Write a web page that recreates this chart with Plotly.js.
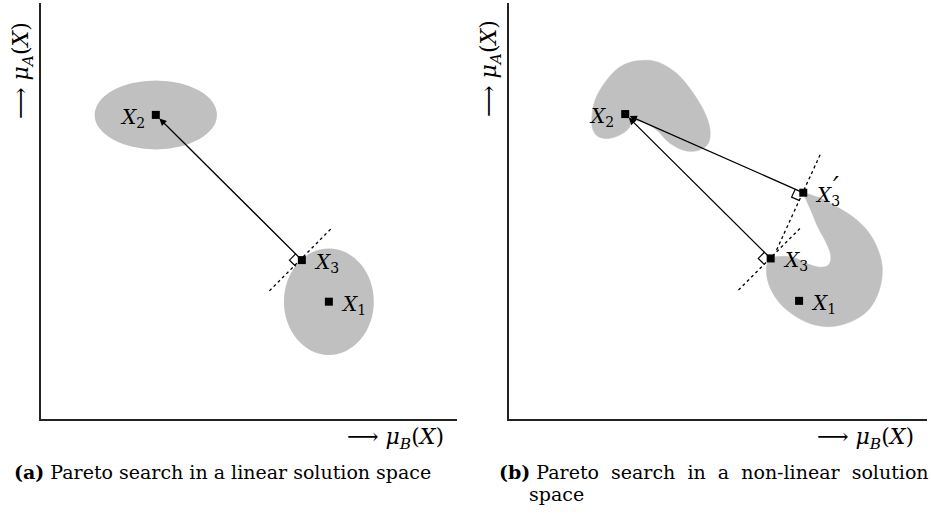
<!DOCTYPE html>
<html>
<head>
<meta charset="utf-8">
<script src="https://cdn.plot.ly/plotly-3.0.1.min.js"></script>
<style>html,body{margin:0;padding:0;background:#fff;}#chart{width:931px;height:514px;}</style>
</head>
<body>
<div id="chart"></div>
<script>
// ---------- Panel (a): linear solution space ----------
const aPointNames = ['X1', 'X2', 'X3'];
const aPointX = [6.92, 2.76, 6.27];
const aPointY = [2.82, 7.31, 3.82];
const aEllipseCX = [2.76, 6.92];
const aEllipseCY = [7.31, 2.82];
const aEllipseRX = [1.47, 1.08];
const aEllipseRY = [0.83, 1.28];
const aTangentX = [5.49, 6.97];
const aTangentY = [3.08, 4.57];

// ---------- Panel (b): non-linear solution space ----------
const bPointNames = ['X1', 'X2', 'X3', "X3'"];
const bPointX = [6.94, 2.78, 6.26, 7.04];
const bPointY = [2.84, 7.33, 3.86, 5.44];
const bTopBlobX = [1.98, 2.06, 2.34, 2.66, 3.06, 3.53, 4.01, 4.41, 4.69, 4.81, 4.77, 4.57, 4.25, 3.85, 3.53, 3.25, 2.97, 2.85, 2.66, 2.37, 2.13, 2.01];
const bTopBlobY = [7.19, 7.67, 8.15, 8.47, 8.61, 8.59, 8.31, 7.83, 7.35, 6.95, 6.63, 6.47, 6.44, 6.63, 6.95, 7.12, 7.16, 6.97, 6.83, 6.74, 6.79, 6.95];
const bLowBlobX = [7.04, 7.44, 7.86, 8.24, 8.58, 8.80, 8.93, 8.86, 8.60, 8.16, 7.68, 7.25, 6.88, 6.48, 6.22, 6.16, 6.24, 6.53, 6.84, 7.15, 7.44, 7.64, 7.70, 7.60, 7.40, 7.22, 7.10];
const bLowBlobY = [5.42, 5.31, 5.09, 4.85, 4.52, 4.14, 3.66, 3.10, 2.62, 2.33, 2.22, 2.28, 2.45, 2.78, 3.22, 3.63, 3.85, 3.91, 3.87, 3.73, 3.65, 3.70, 3.90, 4.21, 4.59, 5.02, 5.29];
const bTangent1X = [5.49, 6.96];   // tangent through X3
const bTangent1Y = [3.10, 4.58];
const bTangent2X = [6.40, 7.00, 7.46]; // curved tangent through X3'
const bTangent2Y = [4.06, 5.38, 6.39];

// ---------- Text ----------
const captionA = '<b>(a)</b> Pareto search in a linear solution space';
const captionB1 = '<b>(b)</b> Pareto\u00a0 search\u00a0 in\u00a0 a\u00a0 non-linear\u00a0 solution';
const captionB2 = 'space';
const xLabel = '\u27f6 <i>μ</i><sub><i>B</i></sub>(<i>X</i>)';
const yLabel = '\u27f6 <i>μ</i><sub><i>A</i></sub>(<i>X</i>)';

const GRAY = 'rgb(192,192,192)';
const SERIF = 'DejaVu Serif, Liberation Serif, serif';
const MATH = 'DejaVu Serif, serif';
const MARK = 0.21;

function rightAngle(px, py, tx, ty, dx, dy, xa, ya) {
  let ax = tx - px, ay = ty - py; let n = Math.hypot(ax, ay); ax /= n; ay /= n;
  let m = Math.hypot(dx, dy); dx /= m; dy /= m;
  return {
    type: 'scatter', mode: 'lines', xaxis: xa, yaxis: ya, hoverinfo: 'skip',
    x: [px + MARK * ax, px + MARK * ax - MARK * dx, px - MARK * dx],
    y: [py + MARK * ay, py + MARK * ay - MARK * dy, py - MARK * dy],
    line: {color: 'black', width: 1.2}
  };
}

const traces = [];
traces.push({type: 'scatter', mode: 'lines', x: bTopBlobX.concat([bTopBlobX[0]]), y: bTopBlobY.concat([bTopBlobY[0]]),
  xaxis: 'x2', yaxis: 'y2', fill: 'toself', fillcolor: GRAY, line: {color: GRAY, width: 0.5, shape: 'spline', smoothing: 1}, hoverinfo: 'skip'});
traces.push({type: 'scatter', mode: 'lines', x: bLowBlobX.concat([bLowBlobX[0]]), y: bLowBlobY.concat([bLowBlobY[0]]),
  xaxis: 'x2', yaxis: 'y2', fill: 'toself', fillcolor: GRAY, line: {color: GRAY, width: 0.5, shape: 'spline', smoothing: 1}, hoverinfo: 'skip'});
traces.push({type: 'scatter', mode: 'lines', x: aTangentX, y: aTangentY, xaxis: 'x', yaxis: 'y', line: {color: 'black', width: 1.3, dash: 'dot'}});
traces.push({type: 'scatter', mode: 'lines', x: bTangent1X, y: bTangent1Y, xaxis: 'x2', yaxis: 'y2', line: {color: 'black', width: 1.3, dash: 'dot'}});
traces.push({type: 'scatter', mode: 'lines', x: bTangent2X, y: bTangent2Y, xaxis: 'x2', yaxis: 'y2', line: {color: 'black', width: 1.3, dash: 'dot', shape: 'spline'}});
traces.push(rightAngle(aPointX[2], aPointY[2], aPointX[1], aPointY[1], aTangentX[1] - aTangentX[0], aTangentY[1] - aTangentY[0], 'x', 'y'));
traces.push(rightAngle(bPointX[2], bPointY[2], bPointX[1], bPointY[1], bTangent1X[1] - bTangent1X[0], bTangent1Y[1] - bTangent1Y[0], 'x2', 'y2'));
traces.push(rightAngle(bPointX[3], bPointY[3], bPointX[1], bPointY[1], bTangent2X[2] - bTangent2X[0], bTangent2Y[2] - bTangent2Y[0], 'x2', 'y2'));
traces.push({type: 'scatter', mode: 'markers', x: aPointX, y: aPointY, xaxis: 'x', yaxis: 'y', marker: {symbol: 'square', size: 8, color: 'black'}});
traces.push({type: 'scatter', mode: 'markers', x: bPointX, y: bPointY, xaxis: 'x2', yaxis: 'y2', marker: {symbol: 'square', size: 8, color: 'black'}});

const shapes = aEllipseCX.map((cx, i) => ({
  type: 'circle', xref: 'x', yref: 'y', layer: 'below',
  x0: cx - aEllipseRX[i], x1: cx + aEllipseRX[i], y0: aEllipseCY[i] - aEllipseRY[i], y1: aEllipseCY[i] + aEllipseRY[i],
  fillcolor: GRAY, line: {width: 0}
}));

const annotations = [];
function arrow(xa, ya, px, py, tx, ty) {
  annotations.push({xref: xa, yref: ya, axref: xa, ayref: ya, x: tx, y: ty, ax: px, ay: py, text: '',
    showarrow: true, arrowhead: 2, arrowsize: 1.1, arrowwidth: 1.3, arrowcolor: 'black', standoff: 5});
}
arrow('x', 'y', aPointX[2], aPointY[2], aPointX[1], aPointY[1]);
arrow('x2', 'y2', bPointX[2], bPointY[2], bPointX[1], bPointY[1]);
arrow('x2', 'y2', bPointX[3], bPointY[3], bPointX[1], bPointY[1]);

function label(xa, ya, x, y, text, side) {
  annotations.push({xref: xa, yref: ya, x: x, y: y, text: text, showarrow: false,
    xanchor: side === 'left' ? 'right' : 'left', yanchor: 'middle',
    xshift: side === 'left' ? -9 : 10, yshift: -3,
    font: {family: MATH, size: 20, color: 'black'}});
}
const lab = n => '<i>X</i><sub>' + n.replace(/[X']/g, '') + '</sub>';
label('x', 'y', aPointX[0], aPointY[0], lab(aPointNames[0]), 'right');
label('x', 'y', aPointX[1], aPointY[1], lab(aPointNames[1]), 'left');
label('x', 'y', aPointX[2], aPointY[2], lab(aPointNames[2]), 'right');
label('x2', 'y2', bPointX[0], bPointY[0], lab(bPointNames[0]), 'right');
label('x2', 'y2', bPointX[1], bPointY[1], lab(bPointNames[1]), 'left');
label('x2', 'y2', bPointX[2], bPointY[2], lab(bPointNames[2]), 'right');
label('x2', 'y2', bPointX[3], bPointY[3], lab(bPointNames[3]), 'right');
annotations.push({xref: 'x2', yref: 'y2', x: bPointX[3], y: bPointY[3], text: '<i>\u2032</i>', showarrow: false,
  xanchor: 'left', yanchor: 'middle', xshift: 28, yshift: 6, font: {family: 'DejaVu Sans, sans-serif', size: 26, color: 'black'}});

const txt = (x, y, text, xanchor, size) => annotations.push({xref: 'paper', yref: 'paper', x: x, y: y, text: text,
  showarrow: false, xanchor: xanchor, yanchor: 'middle', font: {family: SERIF, size: size, color: 'black'}});
txt(446 / 931, 1 - 438 / 514, xLabel, 'right', 22);
txt(916 / 931, 1 - 438 / 514, xLabel, 'right', 22);
annotations.push({xref: 'paper', yref: 'paper', x: 23 / 931, y: 1 - 71 / 514, text: yLabel, showarrow: false,
  xanchor: 'center', yanchor: 'middle', textangle: -90, font: {family: SERIF, size: 22, color: 'black'}});
annotations.push({xref: 'paper', yref: 'paper', x: 491 / 931, y: 1 - 69 / 514, text: yLabel, showarrow: false,
  xanchor: 'center', yanchor: 'middle', textangle: -90, font: {family: SERIF, size: 22, color: 'black'}});
txt(12 / 931, 1 - 472 / 514, captionA, 'left', 19);
txt(497 / 931, 1 - 472 / 514, captionB1, 'left', 19);
txt(527 / 931, 1 - 494 / 514, captionB2, 'left', 19);

const ax = (dom) => ({domain: dom, range: [0, 10], showgrid: false, zeroline: false, showticklabels: false, ticks: '',
  showline: true, linecolor: '#222', linewidth: 1.6, fixedrange: true});
const yDom = [1 - 419 / 514, 1 - 3 / 514];
const layout = {
  width: 931, height: 514, margin: {l: 0, r: 0, t: 0, b: 0},
  paper_bgcolor: 'white', plot_bgcolor: 'white', showlegend: false,
  xaxis: Object.assign(ax([41 / 931, 457 / 931]), {anchor: 'y'}),
  yaxis: Object.assign(ax(yDom), {anchor: 'x'}),
  xaxis2: Object.assign(ax([509 / 931, 927 / 931]), {anchor: 'y2'}),
  yaxis2: Object.assign(ax(yDom), {anchor: 'x2'}),
  shapes: shapes, annotations: annotations
};
Plotly.newPlot('chart', traces, layout, {staticPlot: true, displayModeBar: false});
</script>
</body>
</html>
